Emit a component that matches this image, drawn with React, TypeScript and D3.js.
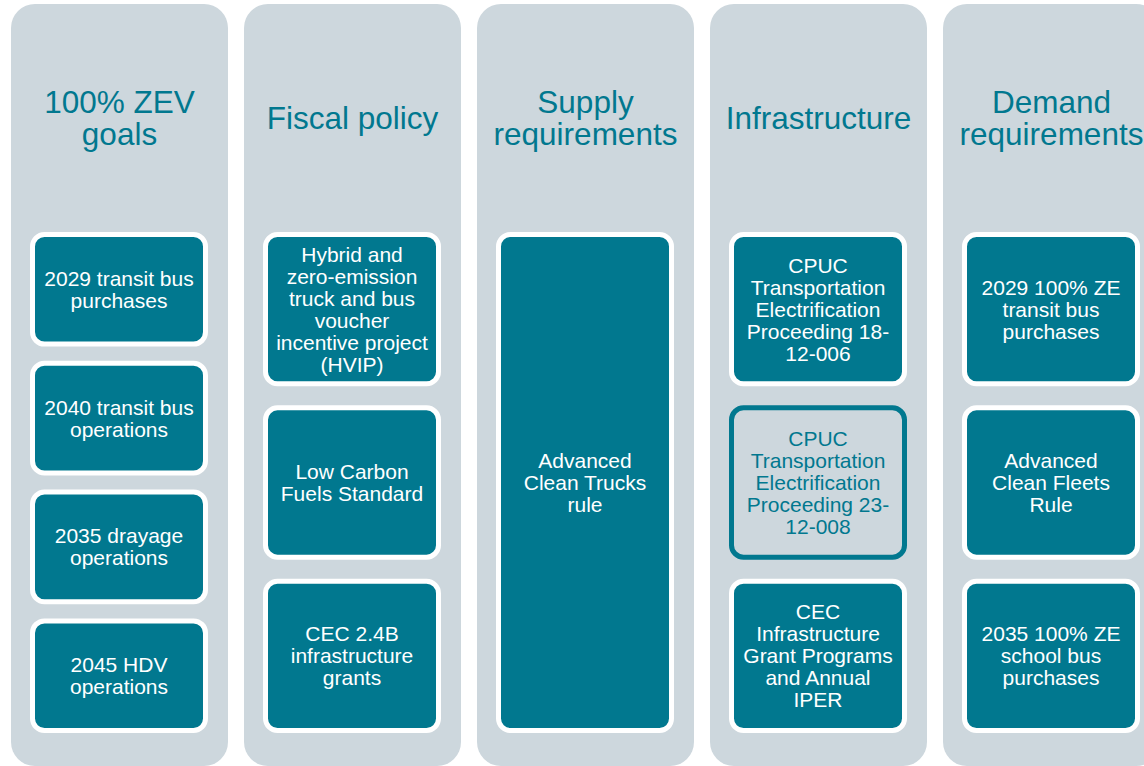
import React from "react";
import * as d3 from "d3";

const columnTitles: string[][] = [
  ["100% ZEV", "goals"],
  ["Fiscal policy"],
  ["Supply", "requirements"],
  ["Infrastructure"],
  ["Demand", "requirements"],
];

const goalsBoxes: string[][] = [
  ["2029 transit bus", "purchases"],
  ["2040 transit bus", "operations"],
  ["2035 drayage", "operations"],
  ["2045 HDV", "operations"],
];
const fiscalBoxes: string[][] = [
  ["Hybrid and", "zero-emission", "truck and bus", "voucher", "incentive project", "(HVIP)"],
  ["Low Carbon", "Fuels Standard"],
  ["CEC 2.4B", "infrastructure", "grants"],
];
const supplyBoxes: string[][] = [["Advanced", "Clean Trucks", "rule"]];
const infraBoxes: string[][] = [
  ["CPUC", "Transportation", "Electrification", "Proceeding 18-", "12-006"],
  ["CPUC", "Transportation", "Electrification", "Proceeding 23-", "12-008"],
  ["CEC", "Infrastructure", "Grant Programs", "and Annual", "IPER"],
];
const demandBoxes: string[][] = [
  ["2029 100% ZE", "transit bus", "purchases"],
  ["Advanced", "Clean Fleets", "Rule"],
  ["2035 100% ZE", "school bus", "purchases"],
];
// boxes drawn in outline style: [column, box]
const outlinedBoxes: [number, number][] = [[3, 1]];

const columnBoxes = [goalsBoxes, fiscalBoxes, supplyBoxes, infraBoxes, demandBoxes];

const W = 1144;
const H = 766;
const TEAL = "#01788F";
const PANEL = "#CDD7DD";
const FONT = "'Liberation Sans', Arial, sans-serif";

export default function App() {
  const colX = d3.scaleLinear().domain([0, 1]).range([11, 244]);
  const panelW = 217;
  const boxOffset = 19;
  const boxW = 178;
  const sw = 5;

  return (
    <svg
      width={W}
      height={H}
      style={{ position: "absolute", left: 0, top: 0, background: "#fff" }}
      fontFamily={FONT}
    >
      {columnTitles.map((title, ci) => {
        const x0 = colX(ci);
        const cx = x0 + panelW / 2;
        const boxes = columnBoxes[ci];
        const yBand = d3
          .scaleBand<number>()
          .domain(d3.range(boxes.length))
          .range([232, 733])
          .paddingInner(boxes.length > 1 ? 0.11 : 0)
          .paddingOuter(0);
        const titleLH = 32;
        return (
          <g key={ci}>
            <rect x={x0} y={4} width={panelW} height={762} rx={24} ry={24} fill={PANEL} />
            <text textAnchor="middle" fill={TEAL} fontSize={31.5}>
              {title.map((t, li) => (
                <tspan
                  key={li}
                  x={cx}
                  y={118 + 11 - ((title.length - 1) * titleLH) / 2 + li * titleLH}
                >
                  {t}
                </tspan>
              ))}
            </text>
            {boxes.map((lines, bi) => {
              const y0 = yBand(bi)!;
              const bh = yBand.bandwidth();
              const outlined = outlinedBoxes.some(([c, b]) => c === ci && b === bi);
              const bcx = x0 + boxOffset + boxW / 2;
              const bcy = y0 + bh / 2;
              const lh = 22;
              return (
                <g key={bi}>
                  <rect
                    x={x0 + boxOffset + sw / 2}
                    y={y0 + sw / 2}
                    width={boxW - sw}
                    height={bh - sw}
                    rx={12}
                    ry={12}
                    fill={outlined ? PANEL : TEAL}
                    stroke={outlined ? TEAL : "#fff"}
                    strokeWidth={sw}
                  />
                  <text textAnchor="middle" fill={outlined ? TEAL : "#fff"} fontSize={21}>
                    {lines.map((t, li) => (
                      <tspan
                        key={li}
                        x={bcx}
                        y={bcy + 7.5 - ((lines.length - 1) * lh) / 2 + li * lh}
                      >
                        {t}
                      </tspan>
                    ))}
                  </text>
                </g>
              );
            })}
          </g>
        );
      })}
    </svg>
  );
}
